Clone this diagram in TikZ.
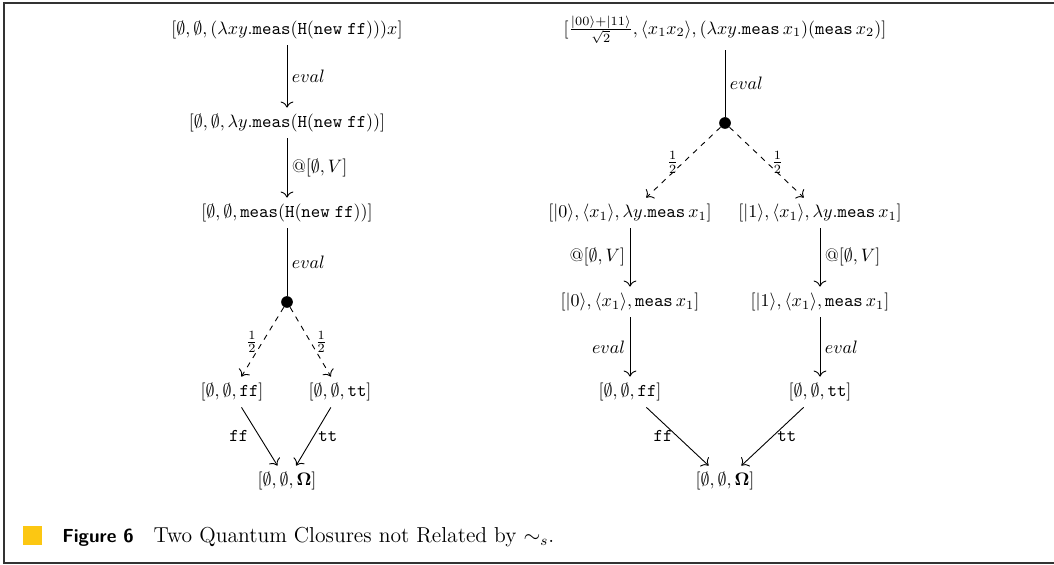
\documentclass[tikz,border=0pt]{standalone}
\usepackage{amsmath,amssymb}
\usetikzlibrary{arrows.meta}
\definecolor{jauneLegende}{rgb}{0.99,0.78,0.07}
\newcommand{\mt}[1]{\mathtt{#1}}
\newcommand{\qket}[1]{|#1\rangle}
\begin{document}
\begin{tikzpicture}[x=0.5556pt,y=-0.5556pt]
	% Styles (MODIFIABLES)
	\tikzstyle{fleche}=[->,>={Computer Modern Rightarrow[scale=1.25]},line width=0.5pt]
	\tikzstyle{tirets}=[fleche,dashed]
	\tikzstyle{arc}=[-,line width=0.5pt]
	\tikzstyle{point}=[circle,fill=black,inner sep=0pt,minimum size=6.5pt]
	\tikzstyle{etiquette}=[inner sep=2.5pt]
	% Cadre
	\useasboundingbox (0,0) rectangle (1054,565);
	\draw[line width=0.9pt,black!80] (1054,3) -- (4,3) -- (4,563) -- (1054,563);
	% Positions (MODIFIABLES)
	\def\ColA{287}\def\ColB{232}\def\ColC{340}
	\def\ColD{725}\def\ColE{630}\def\ColF{820}
	\def\NiveauA{30}\def\NiveauB{123}\def\NiveauC{213}
	\def\NiveauD{302}\def\NiveauE{392}\def\NiveauF{481}
	% Noeuds : premier arbre
	\node (L) at (\ColA,\NiveauA) {$[\emptyset,\emptyset,(\lambda xy.\mt{meas}(\mt{H}(\mt{new}\;\mt{ff})))x]$};
	\node (La) at (\ColA,\NiveauB) {$[\emptyset,\emptyset,\lambda y.\mt{meas}(\mt{H}(\mt{new}\;\mt{ff}))]$};
	\node (Lb) at (\ColA,\NiveauC) {$[\emptyset,\emptyset,\mt{meas}(\mt{H}(\mt{new}\;\mt{ff}))]$};
	\node[point] (Lc) at (\ColA,\NiveauD) {};
	\node (Lca) at (\ColB,\NiveauE) {$[\emptyset,\emptyset,\mt{ff}]$};
	\node (Lcb) at (\ColC,\NiveauE) {$[\emptyset,\emptyset,\mt{tt}]$};
	\node (Ld) at (\ColA,\NiveauF) {$[\emptyset,\emptyset,\mathbf{\Omega}]$};
	% Noeuds : second arbre
	\node (R) at (\ColD,\NiveauA) {$[\tfrac{\qket{00}+\qket{11}}{\sqrt{2}},\langle x_1x_2\rangle,(\lambda xy.\mt{meas}\,x_1)(\mt{meas}\,x_2)]$};
	\node[point] (Ra) at (\ColD,\NiveauB) {};
	\node (Raa) at (\ColE,\NiveauC) {$[\qket{0},\langle x_1\rangle,\lambda y.\mt{meas}\,x_1]$};
	\node (Rab) at (\ColF,\NiveauC) {$[\qket{1},\langle x_1\rangle,\lambda y.\mt{meas}\,x_1]$};
	\node (Rba) at (\ColE,\NiveauD) {$[\qket{0},\langle x_1\rangle,\mt{meas}\,x_1]$};
	\node (Rbb) at (\ColF,\NiveauD) {$[\qket{1},\langle x_1\rangle,\mt{meas}\,x_1]$};
	\node (Rca) at (\ColE,\NiveauE) {$[\emptyset,\emptyset,\mt{ff}]$};
	\node (Rcb) at (\ColF,\NiveauE) {$[\emptyset,\emptyset,\mt{tt}]$};
	\node (Rd) at (\ColD,\NiveauF) {$[\emptyset,\emptyset,\mathbf{\Omega}]$};
	% Arcs : premier arbre
	\draw[fleche] (L)--(La) node[midway,right,etiquette]{$eval$};
	\draw[fleche] (La)--(Lb) node[midway,right,etiquette]{$@[\emptyset,V]$};
	\draw[arc] (Lb)--(Lc) node[midway,right,etiquette]{$eval$};
	\draw[tirets] (Lc)--(Lca) node[midway,left,etiquette]{$\frac{1}{2}$};
	\draw[tirets] (Lc)--(Lcb) node[midway,right,etiquette]{$\frac{1}{2}$};
	\draw[fleche] (Lca)--(Ld) node[midway,left,inner sep=6pt]{$\mt{ff}$};
	\draw[fleche] (Lcb)--(Ld) node[midway,right,etiquette]{$\mt{tt}$};
	% Arcs : second arbre
	\draw[arc] (R)--(Ra) node[midway,right,etiquette]{$eval$};
	\draw[tirets] (Ra)--(Raa) node[midway,left,etiquette]{$\frac{1}{2}$};
	\draw[tirets] (Ra)--(Rab) node[midway,right,etiquette]{$\frac{1}{2}$};
	\draw[fleche] (Raa)--(Rba) node[midway,left,etiquette]{$@[\emptyset,V]$};
	\draw[fleche] (Rab)--(Rbb) node[midway,right,etiquette]{$@[\emptyset,V]$};
	\draw[fleche] (Rba)--(Rca) node[midway,left,etiquette]{$eval$};
	\draw[fleche] (Rbb)--(Rcb) node[midway,right,etiquette]{$eval$};
	\draw[fleche] (Rca)--(Rd) node[midway,left,etiquette]{$\mt{ff}$};
	\draw[fleche] (Rcb)--(Rd) node[midway,right,etiquette]{$\mt{tt}$};
	% Legende
	\fill[jauneLegende] (23,526) rectangle (42,545);
	\node[anchor=base west,inner sep=0pt] (legende) at (62,542) {\fontsize{10.5pt}{13pt}\selectfont\textsf{\textbf{Figure 6}}\hspace{11pt}\fontsize{12pt}{14pt}\selectfont Two Quantum Closures not Related by $\sim_s$.};
\end{tikzpicture}
\end{document}
